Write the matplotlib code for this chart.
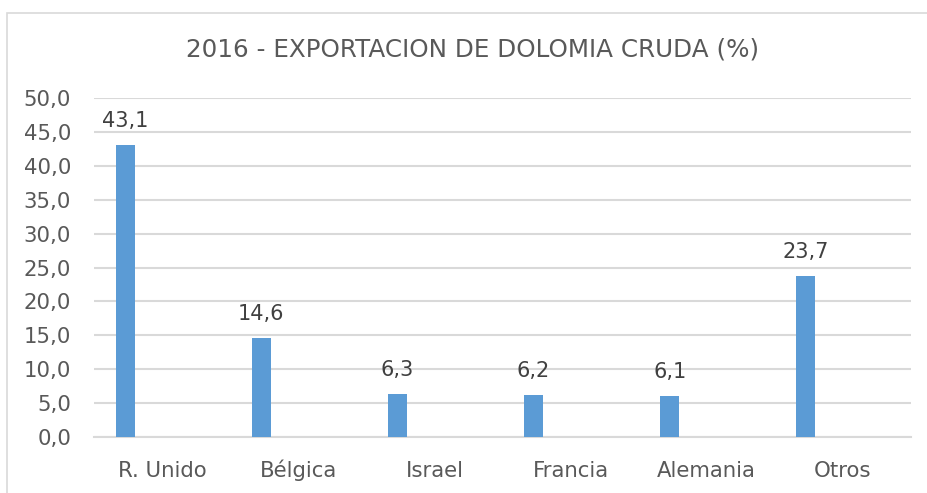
import matplotlib
matplotlib.use("Agg")
import matplotlib.pyplot as plt
from matplotlib.patches import Rectangle
import numpy as np

categories = ["R. Unido", "Bélgica", "Israel", "Francia", "Alemania", "Otros"]
values = [43.1, 14.6, 6.3, 6.2, 6.1, 23.7]
yticks = [0, 5, 10, 15, 20, 25, 30, 35, 40, 45, 50]
title = "2016 - EXPORTACION DE DOLOMIA CRUDA (%)"

W, H = 927, 493
fig = plt.figure(figsize=(W / 100, H / 100), dpi=100)
plt.rcParams['font.family'] = ['DejaVu Sans']

# chart border
fig.patches.append(Rectangle((7.5 / W, -0.1), 1.2, 1 - 13.5 / H + 0.1, transform=fig.transFigure,
                             fill=False, edgecolor="#D9D9D9", linewidth=1.2))

left, right, top, bottom = 94, 911, 98, 437
ax = fig.add_axes([left / W, 1 - bottom / H, (right - left) / W, (bottom - top) / H])

x = np.arange(len(categories))
offset = -0.272
bars = ax.bar(x + offset, values, width=0.14, color="#5B9BD5", zorder=3)

for xi, v in zip(x, values):
    ax.annotate(f"{v:.1f}".replace(".", ","), (xi + offset, v), xytext=(0, 10),
                textcoords="offset points", ha="center", va="bottom",
                fontsize=15, color="#404040")

ax.set_xlim(-0.5, len(categories) - 0.5)
ax.set_ylim(0, 50)
ax.set_yticks(yticks)
ax.set_yticklabels([f"{t:.1f}".replace(".", ",") for t in yticks], fontsize=15.3, color="#595959")
ax.set_xticks(x)
ax.set_xticklabels(categories, fontsize=15.3, color="#595959")
for lbl in ax.get_xticklabels():
    lbl.set_verticalalignment("baseline")
ax.tick_params(axis="both", length=0)
ax.tick_params(axis="y", pad=16.5)
ax.tick_params(axis="x", pad=28.8)
ax.grid(axis="y", color="#D9D9D9", linewidth=1.5, zorder=0)
for s in ["top", "right", "left"]:
    ax.spines[s].set_visible(False)
ax.spines["bottom"].set_color("#D9D9D9")
ax.spines["bottom"].set_linewidth(1.5)

fig.text(473 / W, 1 - 50 / H, title, ha="center", va="center", fontsize=17.7, color="#595959")

fig.savefig("out.png", dpi=100)
